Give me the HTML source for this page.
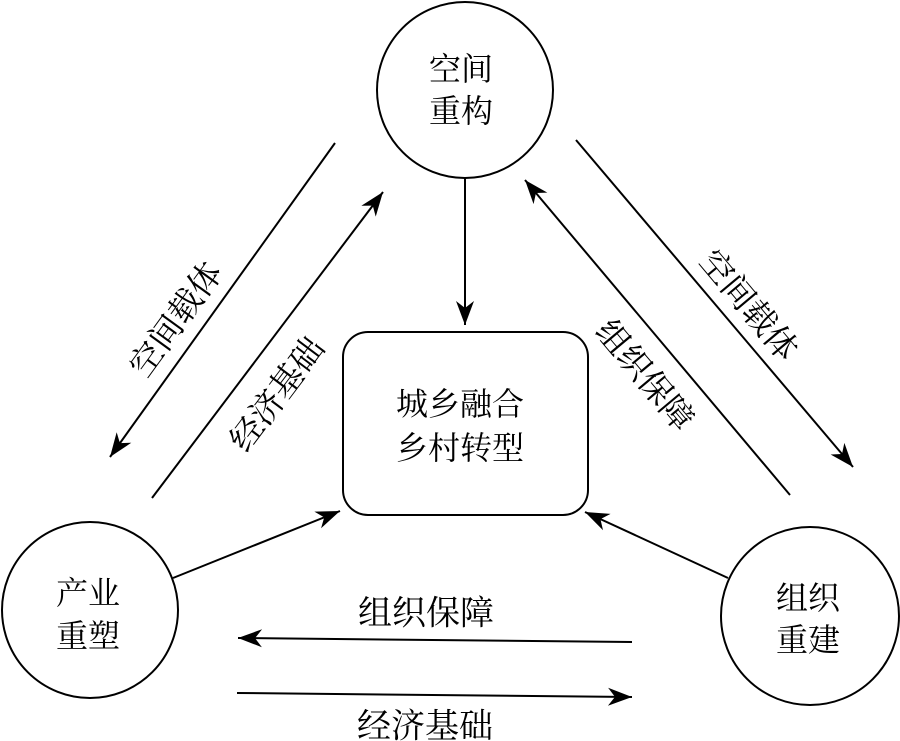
<!DOCTYPE html>
<html>
<head>
<meta charset="utf-8">
<style>
html,body{margin:0;padding:0;background:#fff;}
svg{display:block;}
text{font-family:"Liberation Serif","Noto Serif CJK SC",serif;font-size:32px;fill:#000;}
</style>
</head>
<body>
<svg width="900" height="741" viewBox="0 0 900 741" xmlns="http://www.w3.org/2000/svg">
<defs>
<marker id="ah" markerUnits="userSpaceOnUse" markerWidth="30" markerHeight="30" viewBox="-26 -13 30 26" refX="0" refY="0" orient="auto">
<path d="M0,0 L-24,-9 L-17,0 L-24,9 Z" fill="#000"/>
</marker>
</defs>
<g fill="none" stroke="#000" stroke-width="2">
<circle cx="465" cy="90" r="88"/>
<circle cx="90" cy="610" r="88"/>
<circle cx="810" cy="616" r="89"/>
<rect x="343" y="332" width="245" height="183" rx="25" ry="25"/>
</g>
<g stroke="#000" stroke-width="2" fill="none" marker-end="url(#ah)">
<line x1="465" y1="178" x2="465" y2="325"/>
<line x1="335" y1="143" x2="110" y2="457"/>
<line x1="152" y1="498" x2="383" y2="192"/>
<line x1="576" y1="140" x2="853" y2="467"/>
<line x1="790" y1="495" x2="525" y2="180"/>
<line x1="173" y1="578" x2="340" y2="511"/>
<line x1="728" y1="578" x2="585" y2="512"/>
<line x1="632" y1="642" x2="238" y2="638"/>
<line x1="237" y1="693" x2="632" y2="697"/>
</g>
<g text-anchor="middle" dominant-baseline="central">
<text x="461" y="69">空间</text>
<text x="461" y="111">重构</text>
<text x="88" y="593">产业</text>
<text x="88" y="636">重塑</text>
<text x="808" y="598">组织</text>
<text x="808" y="640">重建</text>
<text x="460" y="404">城乡融合</text>
<text x="460" y="448">乡村转型</text>
<text x="426" y="614" style="font-size:34px">组织保障</text>
<text x="425" y="727" style="font-size:34px">经济基础</text>
<text x="177" y="320" transform="rotate(-54 177 320)" style="font-size:33px">空间载体</text>
<text x="278" y="395" transform="rotate(-53 278 395)" style="font-size:33px">经济基础</text>
<text x="748" y="306" transform="rotate(50 748 306)" style="font-size:33px">空间载体</text>
<text x="644" y="376" transform="rotate(50 644 376)" style="font-size:33px">组织保障</text>
</g>
</svg>
</body>
</html>
